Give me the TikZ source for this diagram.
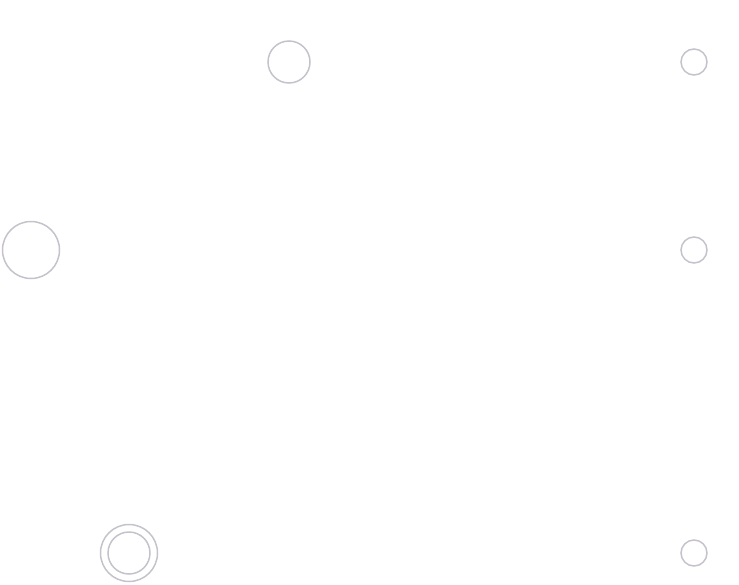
\documentclass[tikz,border=0pt]{standalone}
\definecolor{ring}{HTML}{C6C2CC}
\begin{document}
\begin{tikzpicture}[x=1pt,y=-1pt,
  st/.style={circle,draw=ring,line width=1.5pt,inner sep=0pt,minimum size=#1}]
\useasboundingbox (0,0) rectangle (739,584);
\node[st=42pt] (a) at (289,62) {};
\node[st=26pt] (b) at (694,62) {};
\node[st=57pt] (c) at (31,250) {};
\node[st=26pt] (d) at (694,250) {};
\node[st=57pt] (e) at (129,553) {};
\node[st=42pt] (e2) at (129,553) {};
\node[st=26pt] (f) at (694,553) {};
\end{tikzpicture}
\end{document}
